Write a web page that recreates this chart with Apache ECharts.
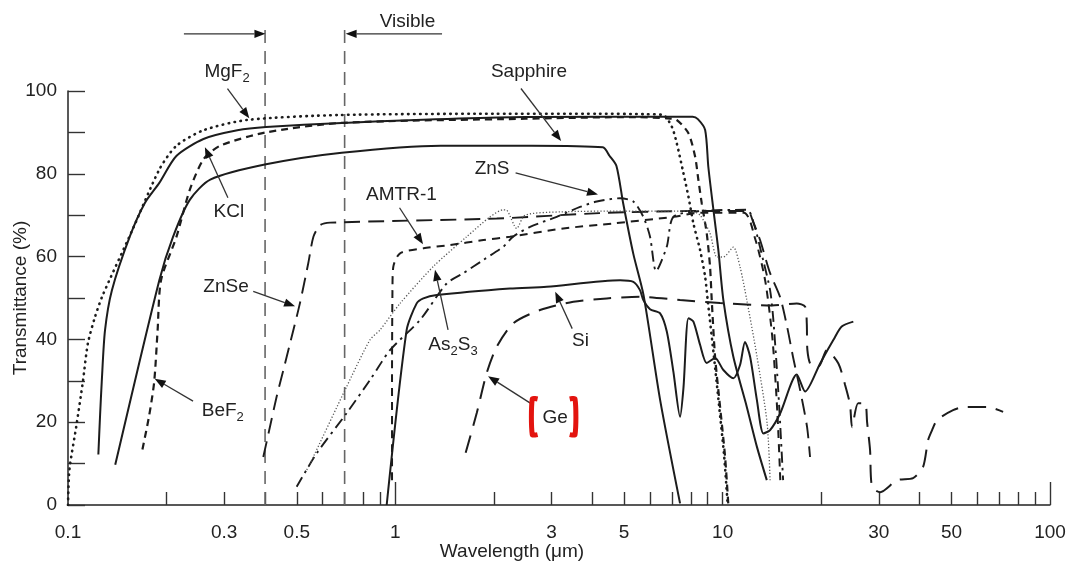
<!DOCTYPE html>
<html><head><meta charset="utf-8">
<script src="https://cdn.jsdelivr.net/npm/echarts@6/dist/echarts.min.js"></script>
<style>html,body{margin:0;padding:0;background:#fff}#c{width:1075px;height:565px}</style>
</head><body><div id="c"></div>
<script>
// ---- axis ticks / labels ----
const xMinorTicks = [0.2,0.3,0.4,0.5,0.6,0.7,0.8,0.9,2,3,4,5,6,7,8,9,10,20,30,40,50,60,70,80,90];
const xMajorTicks = [1,100];
const xTickLabels = [0.1,0.3,0.5,1,3,5,10,30,50,100];
const yTickLabels = [0,20,40,60,80,100];

// ---- series (wavelength um, transmittance %) ----
const MgF2 = [[0.1,0],[0.101,8.5],[0.106,19],[0.111,29.7],[0.115,39],[0.121,45.5],[0.1277,50.7],[0.156,65.8],[0.19,81],[0.214,86.7],[0.259,90.5],[0.352,93],[0.673,94.2],[2.0,94.5],[4.2,94.5],[5.8,94.4],[6.58,94.2],[6.99,91.4],[7.24,87.4],[7.59,80.1],[7.86,74.5],[8.14,68],[8.53,61.6],[8.84,55.1],[9.0,49.5],[9.4,36],[9.75,24],[10.1,12],[10.35,0.5]];
const KCl = [[0.1238,12.2],[0.1253,21.6],[0.1268,29.8],[0.1297,42.1],[0.1362,51.9],[0.1547,65],[0.1719,73],[0.1901,77.8],[0.2143,84.3],[0.2593,88.4],[0.3291,90.5],[0.4027,91.3],[0.6857,92.3],[2.49,93.7],[8.1,93.8],[8.4,93.2],[8.84,90.6],[9.04,81.7],[9.37,71.3],[9.7,61.6],[10.05,49.5],[10.78,35.8],[11.85,23.7],[12.72,14.1],[13.64,6]];
const Sapphire = [[0.1394,9.7],[0.1901,54.3],[0.2092,64.7],[0.2355,73.7],[0.272,78.6],[0.4027,82.3],[0.6857,85.1],[1.376,86.8],[2.607,86.8],[4.305,86.4],[4.515,84.3],[4.737,81.9],[4.966,72.9],[5.336,60.6],[5.732,50.7],[6.44,25.4],[7.41,0.4]];
const BeF2 = [[0.1688,13.4],[0.177,21.6],[0.1834,29.8],[0.1878,42.1],[0.1924,54.3],[0.2143,64.7],[0.2355,76.1],[0.2593,83.5],[0.2919,86.8],[0.4027,90],[0.6857,92.3],[2.49,93.3],[5.464,93.7],[6.75,93.4],[7.24,93],[7.86,89.8],[8.24,84.1],[8.43,78.5],[8.63,72.9],[8.94,65.6],[9.15,57.6],[9.26,49.5],[9.48,35.8],[9.82,23.7],[10.17,11.7],[10.4,0.4]];
const ZnSe = [[0.395,11.6],[0.414,18.9],[0.434,26.2],[0.455,32.6],[0.477,39.1],[0.511,48.7],[0.542,58.4],[0.562,64.8],[0.589,67.6],[0.632,68.2],[2.04,69.2],[4.2,70.5],[8.0,71],[11.9,71],[12.39,68.4],[13.01,64],[13.96,56],[14.98,50.2],[15.74,43],[16.41,35.7],[17.24,27.8],[18.11,18.8],[18.49,11.6]];
const ZnS = [[0.4995,4.4],[0.5753,12.5],[0.7101,22.2],[0.837,30.2],[0.963,37.4],[1.19,44.7],[1.435,53.5],[1.614,56],[1.858,59.2],[2.138,62.4],[2.289,64.8],[2.58,67.2],[3.112,69.6],[3.667,72],[4.124,73.3],[4.86,74.1],[5.336,73.3],[5.724,69.6],[6.0,64.8],[6.26,56.5],[6.75,62.4],[7.07,69.6],[8.53,71],[11.87,71.3],[12.45,68],[13.29,59.2],[13.96,51.9],[14.26,45.4],[14.67,31.9],[14.98,19.8],[15.3,6]];
const AMTR1 = [[0.977,6],[0.977,30],[0.98,52],[0.986,57.6],[1.034,60.8],[1.218,62],[1.47,62.8],[1.858,64],[2.24,64.8],[3.26,66.8],[4.63,68],[7.07,69.6],[8.53,70.6],[11.6,70.6],[12.6,64],[13.5,54],[14.2,40],[14.7,22],[15.0,6]];
const As2S3 = [[0.5362,8.5],[0.549,10],[0.7101,28.6],[0.837,39.9],[0.898,42.3],[1.034,48.7],[1.306,57.6],[1.652,64.8],[1.947,69.6],[2.138,71.3],[2.19,71.2],[2.349,66.8],[2.49,70],[3.186,70.8],[5.0,71],[8.0,71],[8.53,70],[9.15,65.6],[9.6,59.9],[10.05,59.9],[10.78,62.3],[11.3,57.5],[11.85,49.5],[12.74,35.7],[13.67,19.8],[13.96,6]];
const Si = [[0.941,0],[1.083,42.3],[1.162,48.7],[1.218,49.9],[1.338,50.7],[2.24,52.3],[2.901,52.7],[4.86,54.3],[5.336,53.9],[5.59,51.9],[5.724,49.5],[6.0,47.3],[6.44,46.3],[6.75,41.9],[7.07,32.2],[7.41,21.3],[7.59,28.3],[7.86,45.1],[8.14,44.3],[8.53,38.7],[8.94,34.3],[9.48,35.5],[10.05,32.6],[10.78,30.6],[11.3,33.8],[11.7,39.4],[12.13,35.8],[12.72,25.4],[13.32,17.3],[13.96,18.1],[14.98,22.1],[16.84,31.5],[17.86,27.4],[19.85,34.2],[21.8,39.9],[23.1,43.1],[25.07,44.3]];
const Ge = [[1.64,12.6],[1.773,22.2],[1.902,31.9],[2.04,38.2],[2.294,43.9],[2.768,47.1],[3.498,49.1],[4.424,49.9],[5.59,50.3],[7.41,49.5],[9.82,48.8],[14.13,48.2],[16.84,48.7],[17.86,47.9],[18.07,43.9],[18.15,37.4],[18.6,33.8],[19.65,33.5],[20.8,37.4],[22.57,34.2],[23.66,29],[24.5,24.2],[24.85,18.8],[25.93,24.6],[27.23,24.6],[27.62,20],[28.2,13.3],[28.61,4.3],[30.3,3.1],[34.12,6],[38.17,6.5],[40.95,9.2],[42.42,15.7],[43.63,18.1],[45.19,20.5],[50.57,22.9],[55.04,23.7],[64.25,23.7],[71.9,22.5]];

// visible band bounds (um) and top of the marker lines (%)
const visibleBounds = [0.4, 0.7];
const visibleTop = 115.3;

// annotations in data coordinates: [wavelength, transmittance]
const annotations = [
  {text:'Visible', at:[1.09,116.7]},
  {at:[0.3,113.8], arrow:[[0.226,113.8],[0.401,113.8]]},
  {at:[1.0,113.8], arrow:[[1.389,113.8],[0.705,113.8]]},
  {text:'MgF{s|2}', at:[0.306,104.6], arrow:[[0.307,100.6],[0.358,93.4]]},
  {text:'Sapphire', at:[2.56,104.6], arrow:[[2.42,100.6],[3.21,87.9]]},
  {text:'ZnS', at:[1.975,81.2], arrow:[[2.33,80.2],[4.16,75.0]]},
  {text:'AMTR-1', at:[1.044,75.0], arrow:[[1.03,71.8],[1.215,63.0]]},
  {text:'KCl', at:[0.31,70.8], arrow:[[0.308,74.2],[0.262,86.4]]},
  {text:'ZnSe', at:[0.304,52.7], arrow:[[0.368,51.6],[0.494,48.0]]},
  {text:'As{s|2}S{s|3}', at:[1.5,38.6], arrow:[[1.449,42.3],[1.322,56.8]]},
  {text:'Si', at:[3.68,39.6], arrow:[[3.47,42.6],[3.08,51.5]]},
  {text:'BeF{s|2}', at:[0.297,22.7], arrow:[[0.241,25.1],[0.184,30.5]]},
  {text:'Ge', at:[3.08,21.0], arrow:[[2.62,24.3],[1.92,31.1]], bracket:[[2.62,2.72,3.54,3.41],[25.6,17.0]]}
];

const font = '"Liberation Sans", Arial, sans-serif';
const ink = '#1c1c1c';

function mkLine(name, data, lineStyle) {
  return {name, type:'line', data, showSymbol:false, symbol:'none', smooth:0.25,
    lineStyle:Object.assign({color:ink, width:2}, lineStyle), z:3, silent:true, animation:false};
}

const chart = echarts.init(document.getElementById('c'), null, {renderer:'canvas'});
const option = {
  animation:false,
  backgroundColor:'#fff',
  grid:{left:68, right:25, top:91, bottom:60, containLabel:false},
  xAxis:[{
    type:'log', logBase:10, min:0.1, max:100, position:'bottom',
    axisLine:{show:true, lineStyle:{color:'#222', width:1.5}},
    axisTick:{show:true, inside:true, length:13, customValues:xMinorTicks, lineStyle:{color:'#333', width:1.4}},
    axisLabel:{show:true, customValues:xTickLabels, margin:18, color:'#222', fontSize:19, fontFamily:font,
      formatter:v=>String(+v.toPrecision(3))},
    splitLine:{show:false}, minorTick:{show:false}
  },{
    type:'log', logBase:10, min:0.1, max:100, position:'bottom', offset:0,
    axisLine:{show:false},
    axisTick:{show:true, inside:true, length:23, customValues:xMajorTicks, lineStyle:{color:'#333', width:1.4}},
    axisLabel:{show:false}, splitLine:{show:false}
  }],
  yAxis:{
    type:'value', min:0, max:100, interval:10,
    axisLine:{show:true, lineStyle:{color:'#222', width:1.5}},
    axisTick:{show:true, inside:true, length:17, lineStyle:{color:'#333', width:1.4}},
    axisLabel:{color:'#222', fontSize:19, fontFamily:font, margin:11,
      formatter:v=>yTickLabels.includes(v)?String(v):''},
    splitLine:{show:false}
  },
  graphic:[
    {type:'text', x:512, y:552, style:{text:'Wavelength (μm)', font:'19px '+font, fill:'#222', align:'center', verticalAlign:'middle'}},
    {type:'text', rotation:Math.PI/2, x:21, y:298, style:{text:'Transmittance (%)', font:'19px '+font, fill:'#222', align:'center', verticalAlign:'middle'}}
  ],
  series:[
    {type:'custom', name:'visible', clip:false, silent:true, z:1,
     data:visibleBounds.map(v=>[v,0,visibleTop]), encode:{x:0,y:1},
     renderItem:(p,api)=>{
       const a=api.coord([api.value(0),api.value(1)]), b=api.coord([api.value(0),api.value(2)]);
       return {type:'line', shape:{x1:a[0],y1:a[1],x2:b[0],y2:b[1]}, style:{stroke:'#666', lineWidth:1.6, lineDash:[13,8]}};
     }},
    mkLine('MgF2', MgF2, {width:2.6, type:[0.5,5.5], cap:'round'}),
    mkLine('KCl', KCl, {width:2}),
    mkLine('Sapphire', Sapphire, {width:2}),
    mkLine('BeF2', BeF2, {width:2.2, type:[7,5]}),
    mkLine('ZnSe', ZnSe, {width:1.9, type:[16,8]}),
    mkLine('ZnS', ZnS, {width:1.9, type:[11,5,2.5,5]}),
    mkLine('AMTR-1', AMTR1, {width:2, type:[8,6]}),
    mkLine('As2S3', As2S3, {width:1.3, color:'#555', type:[1.2,2]}),
    mkLine('Si', Si, {width:2}),
    mkLine('Ge', Ge, {width:2, type:[18,10]}),
    {type:'custom', name:'annotations', clip:false, silent:true, z:5,
     data:annotations.map(a=>a.at), encode:{x:0,y:1},
     renderItem:(p,api)=>{
       const a=annotations[p.dataIndex];
       const ch=[];
       if (a.text) {
         const c=api.coord(a.at);
         ch.push({type:'text', x:c[0], y:c[1], style:{text:a.text, fill:'#222', align:'center', verticalAlign:'middle',
           font:'19px '+font, lineHeight:26,
           rich:{s:{fontSize:13, fontFamily:font, fill:'#222', verticalAlign:'bottom', lineHeight:26}}}});
       }
       if (a.arrow) {
         const t=api.coord(a.arrow[0]), h=api.coord(a.arrow[1]);
         const dx=h[0]-t[0], dy=h[1]-t[1], L=Math.hypot(dx,dy), ux=dx/L, uy=dy/L;
         const hl=11, hw=4.2;
         const bx=h[0]-ux*hl, by=h[1]-uy*hl;
         ch.push({type:'line', shape:{x1:t[0],y1:t[1],x2:bx,y2:by}, style:{stroke:'#333', lineWidth:1.3}});
         ch.push({type:'polygon', shape:{points:[[h[0],h[1]],[bx-uy*hw,by+ux*hw],[bx+uy*hw,by-ux*hw]]}, style:{fill:'#111'}});
       }
       if (a.bracket) {
         const xs=a.bracket[0], ys=a.bracket[1];
         const L1=api.coord([xs[0],ys[0]]), L1s=api.coord([xs[1],ys[0]]), L2=api.coord([xs[0],ys[1]]), L2s=api.coord([xs[1],ys[1]]);
         const R1=api.coord([xs[2],ys[0]]), R1s=api.coord([xs[3],ys[0]]), R2=api.coord([xs[2],ys[1]]), R2s=api.coord([xs[3],ys[1]]);
         const st={stroke:'#e3140f', lineWidth:5, fill:null, lineJoin:'round', lineCap:'butt'};
         ch.push({type:'polyline', shape:{points:[L1s,L1,L2,L2s], smooth:0.25}, style:st});
         ch.push({type:'polyline', shape:{points:[R1s,R1,R2,R2s], smooth:0.25}, style:st});
       }
       return {type:'group', children:ch};
     }}
  ]
};
chart.setOption(option);
</script></body></html>
